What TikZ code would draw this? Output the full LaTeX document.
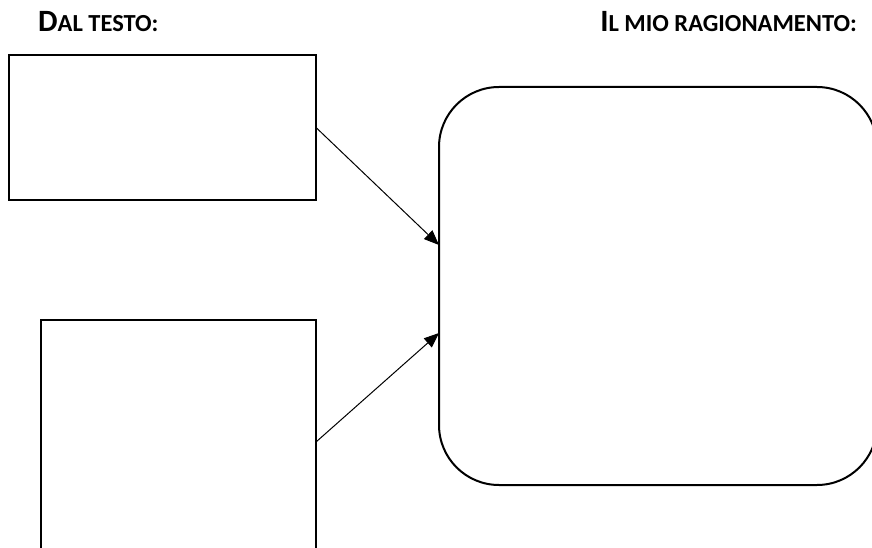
\documentclass[tikz,border=0pt]{standalone}
\usepackage{fontspec}
\setmainfont{Carlito}
\usetikzlibrary{arrows.meta}
\newcommand{\bigc}[1]{{\fontsize{31}{36}\selectfont #1}}
\newcommand{\smc}[1]{{\fontsize{24.5}{29}\selectfont #1}}
\tikzset{
  box/.style={draw, line width=2pt, inner sep=0pt, outer sep=0pt},
  rbox/.style={draw, line width=2pt, rounded corners=60pt, inner sep=0pt, outer sep=0pt},
  link/.style={line width=1pt, -{Triangle[length=15pt,width=12pt]}},
  head/.style={font=\bfseries, inner sep=0pt}
}
\begin{document}
\begin{tikzpicture}[x=1pt,y=-1pt]
\useasboundingbox (0,0) rectangle (872,548);
\clip (0,0) rectangle (872,548);
\fill[white] (0,0) rectangle (872,548);
\node[head, anchor=base west] (h1) at (38,32) {\bigc{D}\smc{AL TESTO:}};
\node[head, anchor=base east] (h2) at (857,32) {\bigc{I}\smc{L MIO RAGIONAMENTO:}};
\node[box, minimum width=307pt, minimum height=145pt] (a) at (162.5,127.5) {};
\node[box, minimum width=275pt, minimum height=300pt] (b) at (178.5,469.5) {};
\node[rbox, minimum width=438pt, minimum height=398pt] (c) at (658,286) {};
\draw[link] (a.east) -- ([yshift=41pt]c.west);
\draw[link] ([yshift=27.5pt]b.east) -- ([yshift=-47pt]c.west);
\end{tikzpicture}
\end{document}
